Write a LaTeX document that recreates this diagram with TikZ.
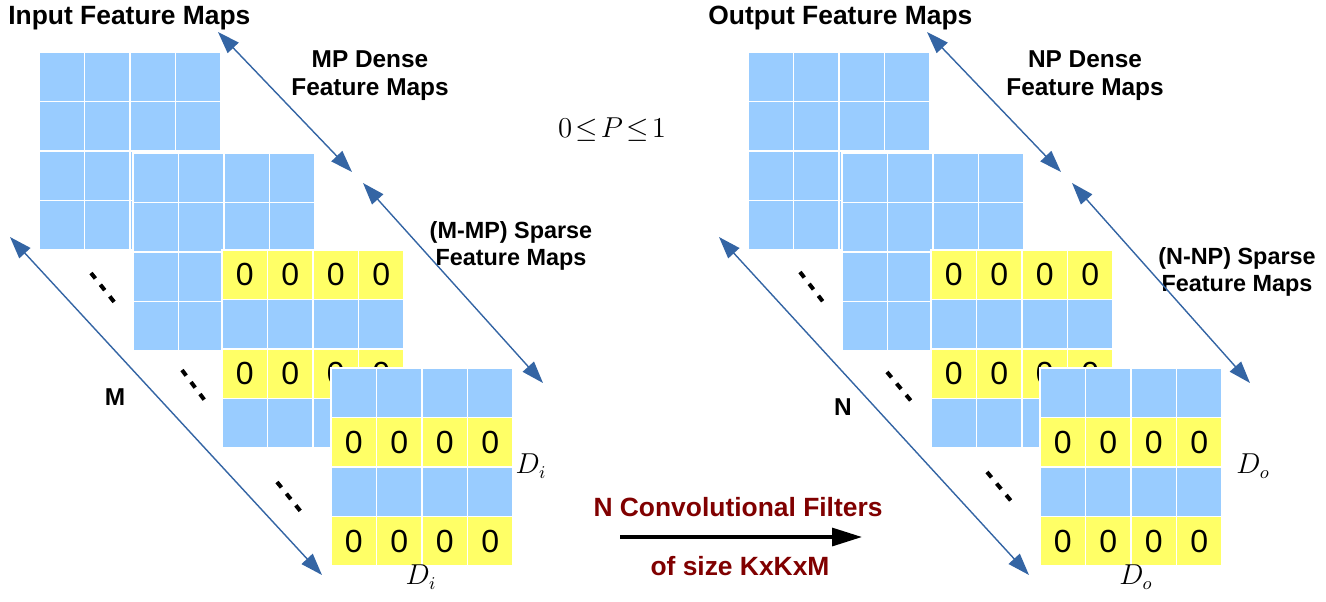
\documentclass[tikz,border=0pt]{standalone}
\usepackage[no-math]{fontspec}
\setmainfont{Liberation Sans}
\usepackage{amsmath}
\usetikzlibrary{positioning,arrows.meta}
\definecolor{cellblue}{HTML}{99CCFF}
\definecolor{cellyellow}{HTML}{FFFF66}
\definecolor{arrblue}{HTML}{3465A4}
\definecolor{darkred}{HTML}{800000}
\begin{document}
\begin{tikzpicture}[x=0.5pt,y=-0.5pt, cell/.style={draw=white,line width=0.75pt,inner sep=0pt,minimum width=22.75pt,minimum height=24.75pt,font=\fontsize{16}{16}\selectfont}, cellb/.style={cell,fill=cellblue,node contents={}}, celly/.style={cell,fill=cellyellow,node contents={0}}, title/.style={anchor=west,inner sep=0pt,font=\fontsize{13.2}{15}\selectfont\bfseries}, lbl/.style={align=center,font=\fontsize{12.2}{14}\selectfont\bfseries}, slbl/.style={align=center,font=\fontsize{11.7}{13.5}\selectfont\bfseries}, redlbl/.style={text=darkred,font=\fontsize{13.2}{15}\selectfont\bfseries}, mathlbl/.style={font=\fontsize{13.5}{15}\selectfont}, barr/.style={{Triangle[length=11pt,width=7.5pt]}-{Triangle[length=11pt,width=7.5pt]},draw=arrblue,fill=arrblue,line width=0.7pt}, karr/.style={-{Triangle[length=15pt,width=9pt]},line width=1.6pt}, dots/.style={line width=2pt,dash pattern=on 3.5pt off 4pt}]
\useasboundingbox (0,0) rectangle (1326,601);
% feature map grids, back to front
\foreach \gx/\gy/\rows/\g in {39/52/{b,b,b,b}/in1, 133/153/{b,b,b,b}/in2, 222/250/{y,b,y,b}/in3, 331/368/{b,y,b,y}/in4, 748/52/{b,b,b,b}/out1, 842/153/{b,b,b,b}/out2, 931/250/{y,b,y,b}/out3, 1040/368/{b,y,b,y}/out4}
  \foreach \r [count=\i from 0] in \rows
    \foreach \c in {0,...,3}
      \node (\g-\i-\c) at ({\gx+45.5*\c+22.75},{\gy+49.5*\i+24.75}) [cell\r];
% titles
\node[title] (intitle) at (8,18) {Input Feature Maps};
\node[title] (outtitle) at (708,18) {Output Feature Maps};
\node[lbl] (mpdense) at (370,76) {MP Dense\\Feature Maps};
\node[slbl] (mpsparse) at (511,246) {(M-MP) Sparse\\Feature Maps};
\node[lbl] (npdense) at (1085,76) {NP Dense\\Feature Maps};
\node[slbl] (npsparse) at (1237,272) {(N-NP) Sparse\\Feature Maps};
\node[lbl] (mlab) at (115,397) {M};
\node[lbl] (nlab) at (843,407) {N};
\node[mathlbl] (prange) at (612,130) {$0\mkern2mu{\le}\mkern2mu P\mkern2mu{\le}\mkern2mu 1$};
\node[mathlbl] (disde) at (531,466) {$D_i$};
\node[mathlbl] (dibot) at (421,577) {$D_i$};
\node[mathlbl] (doside) at (1253,466) {$D_o$};
\node[mathlbl] (dobot) at (1136,577) {$D_o$};
\node[redlbl] (convtop) at (738,507) {N Convolutional Filters};
\node[redlbl] (convbot) at (740,566) {of size KxKxM};
% arrow ends
\coordinate (md1) at (218,32);
\coordinate (md2) at (352,172);
\coordinate (ms1) at (363,183);
\coordinate (ms2) at (543,383);
\coordinate (mm1) at (10,237);
\coordinate (mm2) at (322,575);
\coordinate (nd1) at (927,32);
\coordinate (nd2) at (1061,172);
\coordinate (ns1) at (1072,183);
\coordinate (ns2) at (1250,383);
\coordinate (nm1) at (719,237);
\coordinate (nm2) at (1029,575);
\coordinate (cs) at (620,537);
\coordinate (ce) at (862,537);
\draw[barr] (md1) -- (md2);
\draw[barr] (ms1) -- (ms2);
\draw[barr] (mm1) -- (mm2);
\draw[barr] (nd1) -- (nd2);
\draw[barr] (ns1) -- (ns2);
\draw[barr] (nm1) -- (nm2);
\draw[karr] (cs) -- (ce);
% dots
\coordinate (a1) at (91,273); \coordinate (b1) at (115,303);
\coordinate (a2) at (182,370); \coordinate (b2) at (206,402);
\coordinate (a3) at (277,482); \coordinate (b3) at (302,513);
\coordinate (a4) at (800,272); \coordinate (b4) at (824,303);
\coordinate (a5) at (887,372); \coordinate (b5) at (912,402);
\coordinate (a6) at (987,472); \coordinate (b6) at (1012,502);
\foreach \k in {1,...,6}
  \draw[dots] (a\k) -- (b\k);
\end{tikzpicture}
\end{document}
